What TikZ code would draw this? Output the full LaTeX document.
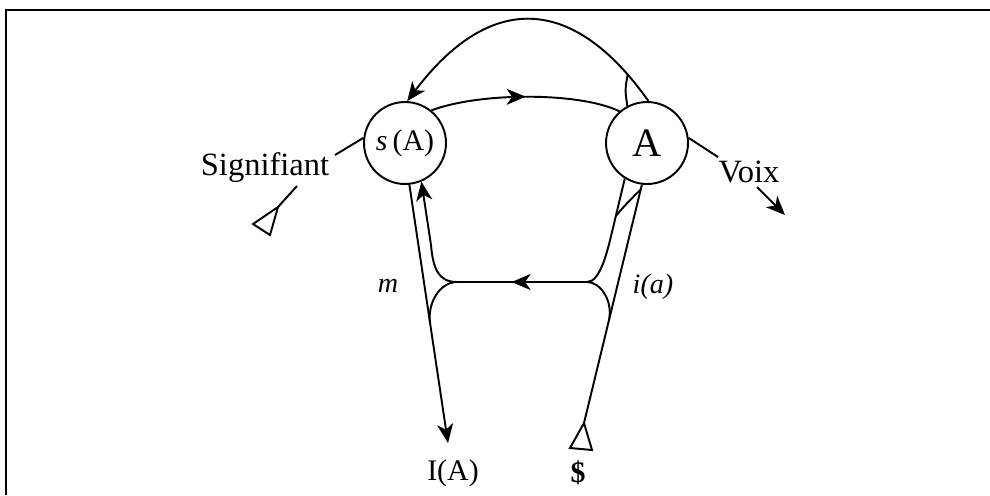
\documentclass[tikz,border=0pt]{standalone}
\usepackage{fontspec}
\setmainfont{Liberation Serif}
\usetikzlibrary{arrows.meta}
\usetikzlibrary{decorations.markings}

\begin{document}
\begin{tikzpicture}[x=.02cm, y=-.02cm, line width=1.1pt,
    >={Stealth[length=3.8mm, width=3.2mm, inset=1.1mm]},
    circ/.style={draw, circle, minimum size=1.64cm, inner sep=0pt},
    midarrow/.style={postaction={decorate}, decoration={markings,
        mark=at position #1 with {\arrow{>}}}}]
    \useasboundingbox (0,0) rectangle (990,495);

    % frame (top and left only)
    \draw[line width=1.5pt] (990,10) -- (6,10) -- (6,495);

    % circles
    \node[circ, font=\fontsize{17}{17}\selectfont] (sA) at (405,143) {\textit{s}\,(A)};
    \node[circ, font=\fontsize{23}{23}\selectfont] (A) at (647,143) {A};

    % labels
    \node[font=\fontsize{18.5}{18.5}\selectfont] (sig) at (265,168) {Signifiant};
    \node[font=\fontsize{18.5}{18.5}\selectfont] (voix) at (749,172) {Voix};
    \node[font=\fontsize{16}{16}\selectfont\itshape] (m) at (388,286) {m};
    \node[font=\fontsize{16}{16}\selectfont\itshape] (ia) at (653,287) {i(a)};
    \node[font=\fontsize{17}{17}\selectfont] (IA) at (453,473) {I(A)};
    \node[font=\fontsize{17}{17}\selectfont\bfseries] (S) at (578,473) {\$};

    % loop from A back to s(A)
    \draw[->] (A.88) .. controls (572,-7) and (489,-7) .. (sA.87)
        coordinate[pos=.09] (loopj);
    \draw (loopj) .. controls (625,90) .. (A.118);

    % signifier vector
    \coordinate (sigtip) at (278,207);
    \coordinate (sigin) at (297,186);
    \coordinate (sigout) at (335,155);
    \draw (sigtip) -- (253,224) -- (270,235) -- cycle;
    \draw (sigtip) -- (sigin);
    \draw (sigout) -- (sA.173);
    \draw[midarrow=.5] (sA.51) .. controls (480,92) and (580,92) .. (A.131);
    \coordinate (voixout) at (718,157);
    \coordinate (voixin) at (757,187);
    \coordinate (voixtip) at (785,215);
    \draw (A.7) -- (voixout);
    \draw[->] (voixin) -- (voixtip);

    % lower part
    \coordinate (hl) at (457,282);
    \coordinate (hr) at (587,282);
    \coordinate (IAtip) at (448,443);
    \coordinate (Stip) at (584,423);
    \draw[->] (sA.-84) -- (IAtip) coordinate[pos=.537] (mj);
    \draw[midarrow=.58] (hr) -- (hl);
    \draw[->] (hl) .. controls (438,282) and (433,268) .. (431,245) -- (sA.-67);
    \draw (hl) .. controls (440,282) and (427,303) .. (mj);

    \draw (Stip) -- (A.-97) coordinate[pos=.433] (ij) coordinate[pos=.98] (rj);
    \draw (Stip) -- (570,448) -- (592,450) -- cycle;
    \draw (A.-122) -- (612,232) coordinate[pos=.7] (lj)
        .. controls (607,253) and (600,282) .. (hr);
    \draw (rj) .. controls (632,198) and (624,206) .. (lj);
    \draw (hr) .. controls (600,282) and (613,300) .. (ij);
\end{tikzpicture}
\end{document}
